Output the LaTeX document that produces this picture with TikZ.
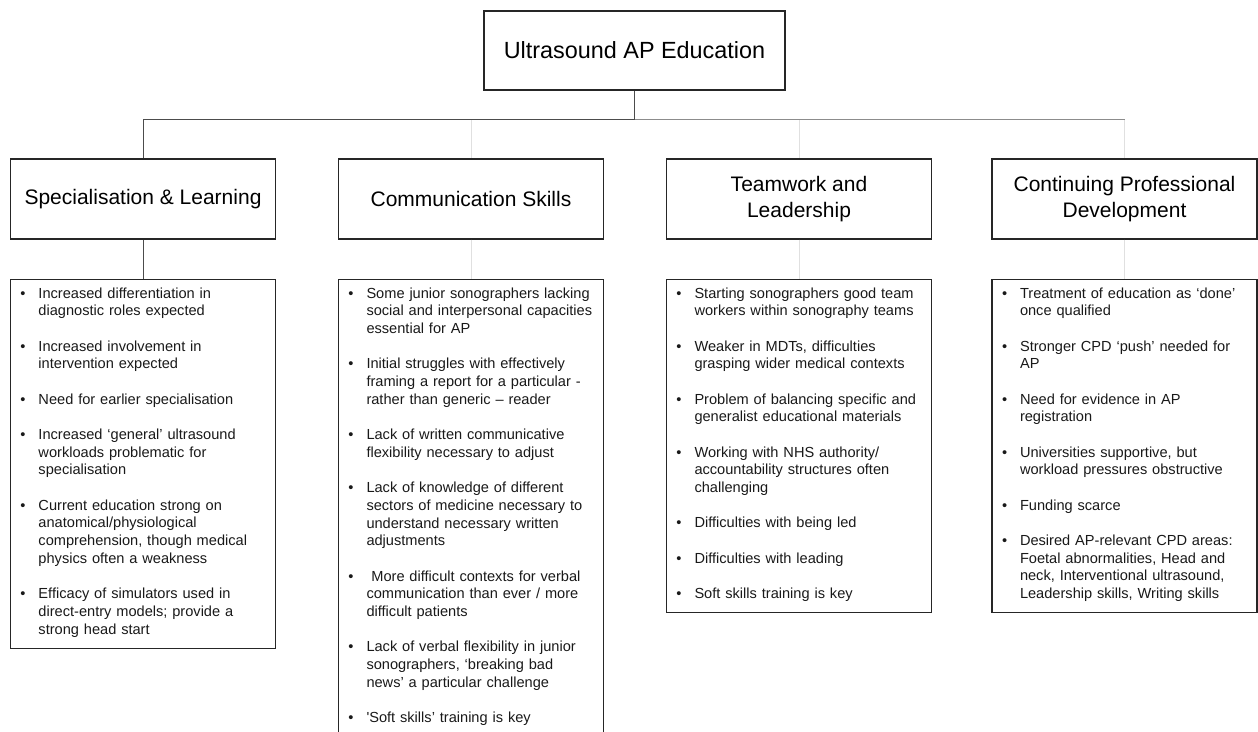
\documentclass[tikz,border=0pt]{standalone}
\usepackage{fontspec}
\setmainfont{Liberation Sans}

% bullet list used inside the theme boxes
\newenvironment{pointlist}{%
  \begin{list}{\textbullet}{%
    \setlength{\leftmargin}{20pt}%
    \setlength{\labelwidth}{7.1pt}%
    \setlength{\labelsep}{12.9pt}%
    \setlength{\itemsep}{17.6pt}%
    \setlength{\parsep}{0pt}%
    \setlength{\topsep}{0pt}%
    \setlength{\partopsep}{0pt}}}%
  {\end{list}\vspace{10pt}}

\begin{document}
\begin{tikzpicture}[
    x=1pt, y=1pt,
    rootbox/.style={
        rectangle,
        draw=black!85,
        line width=1.1pt,
        minimum width=301pt,
        minimum height=79pt,
        font=\fontsize{23.4}{28}\selectfont
    },
    themebox/.style={
        rectangle,
        draw=black!85,
        line width=1.1pt,
        minimum width=265pt,
        minimum height=80pt,
        align=center,
        font=\fontsize{21}{26.5}\selectfont
    },
    listbox/.style={
        rectangle,
        draw=black!85,
        line width=1.1pt,
        anchor=north,
        text width=249pt,
        inner xsep=8pt,
        inner ysep=1pt,
        text=black!90,
        font=\fontsize{14.6}{17.7}\selectfont
    },
    link/.style={
        line width=0.8pt,
        draw=#1
    }
]
\useasboundingbox (0,0) rectangle (1258,-731);

% Root
\node[rootbox] (root) at (634.5,-50.5) {Ultrasound AP Education};

% Themes
\node[themebox] (spec) at (143,-199)   {Specialisation \& Learning};
\node[themebox] (comm) at (471,-199)   {Communication Skills};
\node[themebox] (team) at (799,-199)   {Teamwork and\\Leadership};
\node[themebox] (cpd)  at (1124.5,-199) {Continuing Professional\\Development};

% Tree connectors (faint ones first, darker ones on top)
\coordinate (bar) at (634.5,-119);
\draw[link=black!12] (bar) -| (comm.north);
\draw[link=black!12] (bar) -| (team.north);
\draw[link=black!12] (bar -| cpd.north) -- (cpd.north);
\draw[link=black!45] (bar) -- (bar -| cpd.north);
\draw[link=black!70] (root.south) -- (bar) -| (spec.north);

% Findings under each theme
\node[listbox] (specpts) at (143,-279) {%
\begin{pointlist}
\item Increased differentiation in\\
diagnostic roles expected
\item Increased involvement in\\
intervention expected
\item Need for earlier specialisation
\item Increased ‘general’ ultrasound\\
workloads problematic for\\
specialisation
\item Current education strong on\\
anatomical/physiological\\
comprehension, though medical\\
physics often a weakness
\item Efficacy of simulators used in\\
direct-entry models; provide a\\
strong head start
\end{pointlist}};

\node[listbox] (commpts) at (471,-279) {%
\begin{pointlist}
\item Some junior sonographers lacking\\
social and interpersonal capacities\\
essential for AP
\item Initial struggles with effectively\\
framing a report for a particular -\\
rather than generic – reader
\item Lack of written communicative\\
flexibility necessary to adjust
\item Lack of knowledge of different\\
sectors of medicine necessary to\\
understand necessary written\\
adjustments
\item \ More difficult contexts for verbal\\
communication than ever / more\\
difficult patients
\item Lack of verbal flexibility in junior\\
sonographers, ‘breaking bad\\
news’ a particular challenge
\item \textquotesingle Soft skills’ training is key
\end{pointlist}};

\node[listbox] (teampts) at (799,-279) {%
\begin{pointlist}
\item Starting sonographers good team\\
workers within sonography teams
\item Weaker in MDTs, difficulties\\
grasping wider medical contexts
\item Problem of balancing specific and\\
generalist educational materials
\item Working with NHS authority/\\
accountability structures often\\
challenging
\item Difficulties with being led
\item Difficulties with leading
\item Soft skills training is key
\end{pointlist}};

\node[listbox] (cpdpts) at (1124.5,-279) {%
\begin{pointlist}
\item Treatment of education as ‘done’\\
once qualified
\item Stronger CPD ‘push’ needed for\\
AP
\item Need for evidence in AP\\
registration
\item Universities supportive, but\\
workload pressures obstructive
\item Funding scarce
\item Desired AP-relevant CPD areas:\\
Foetal abnormalities, Head and\\
neck, Interventional ultrasound,\\
Leadership skills, Writing skills
\end{pointlist}};

\draw[link=black!70] (spec.south) -- (specpts.north);
\draw[link=black!12] (comm.south) -- (commpts.north);
\draw[link=black!12] (team.south) -- (teampts.north);
\draw[link=black!12] (cpd.south) -- (cpdpts.north);

\end{tikzpicture}
\end{document}
